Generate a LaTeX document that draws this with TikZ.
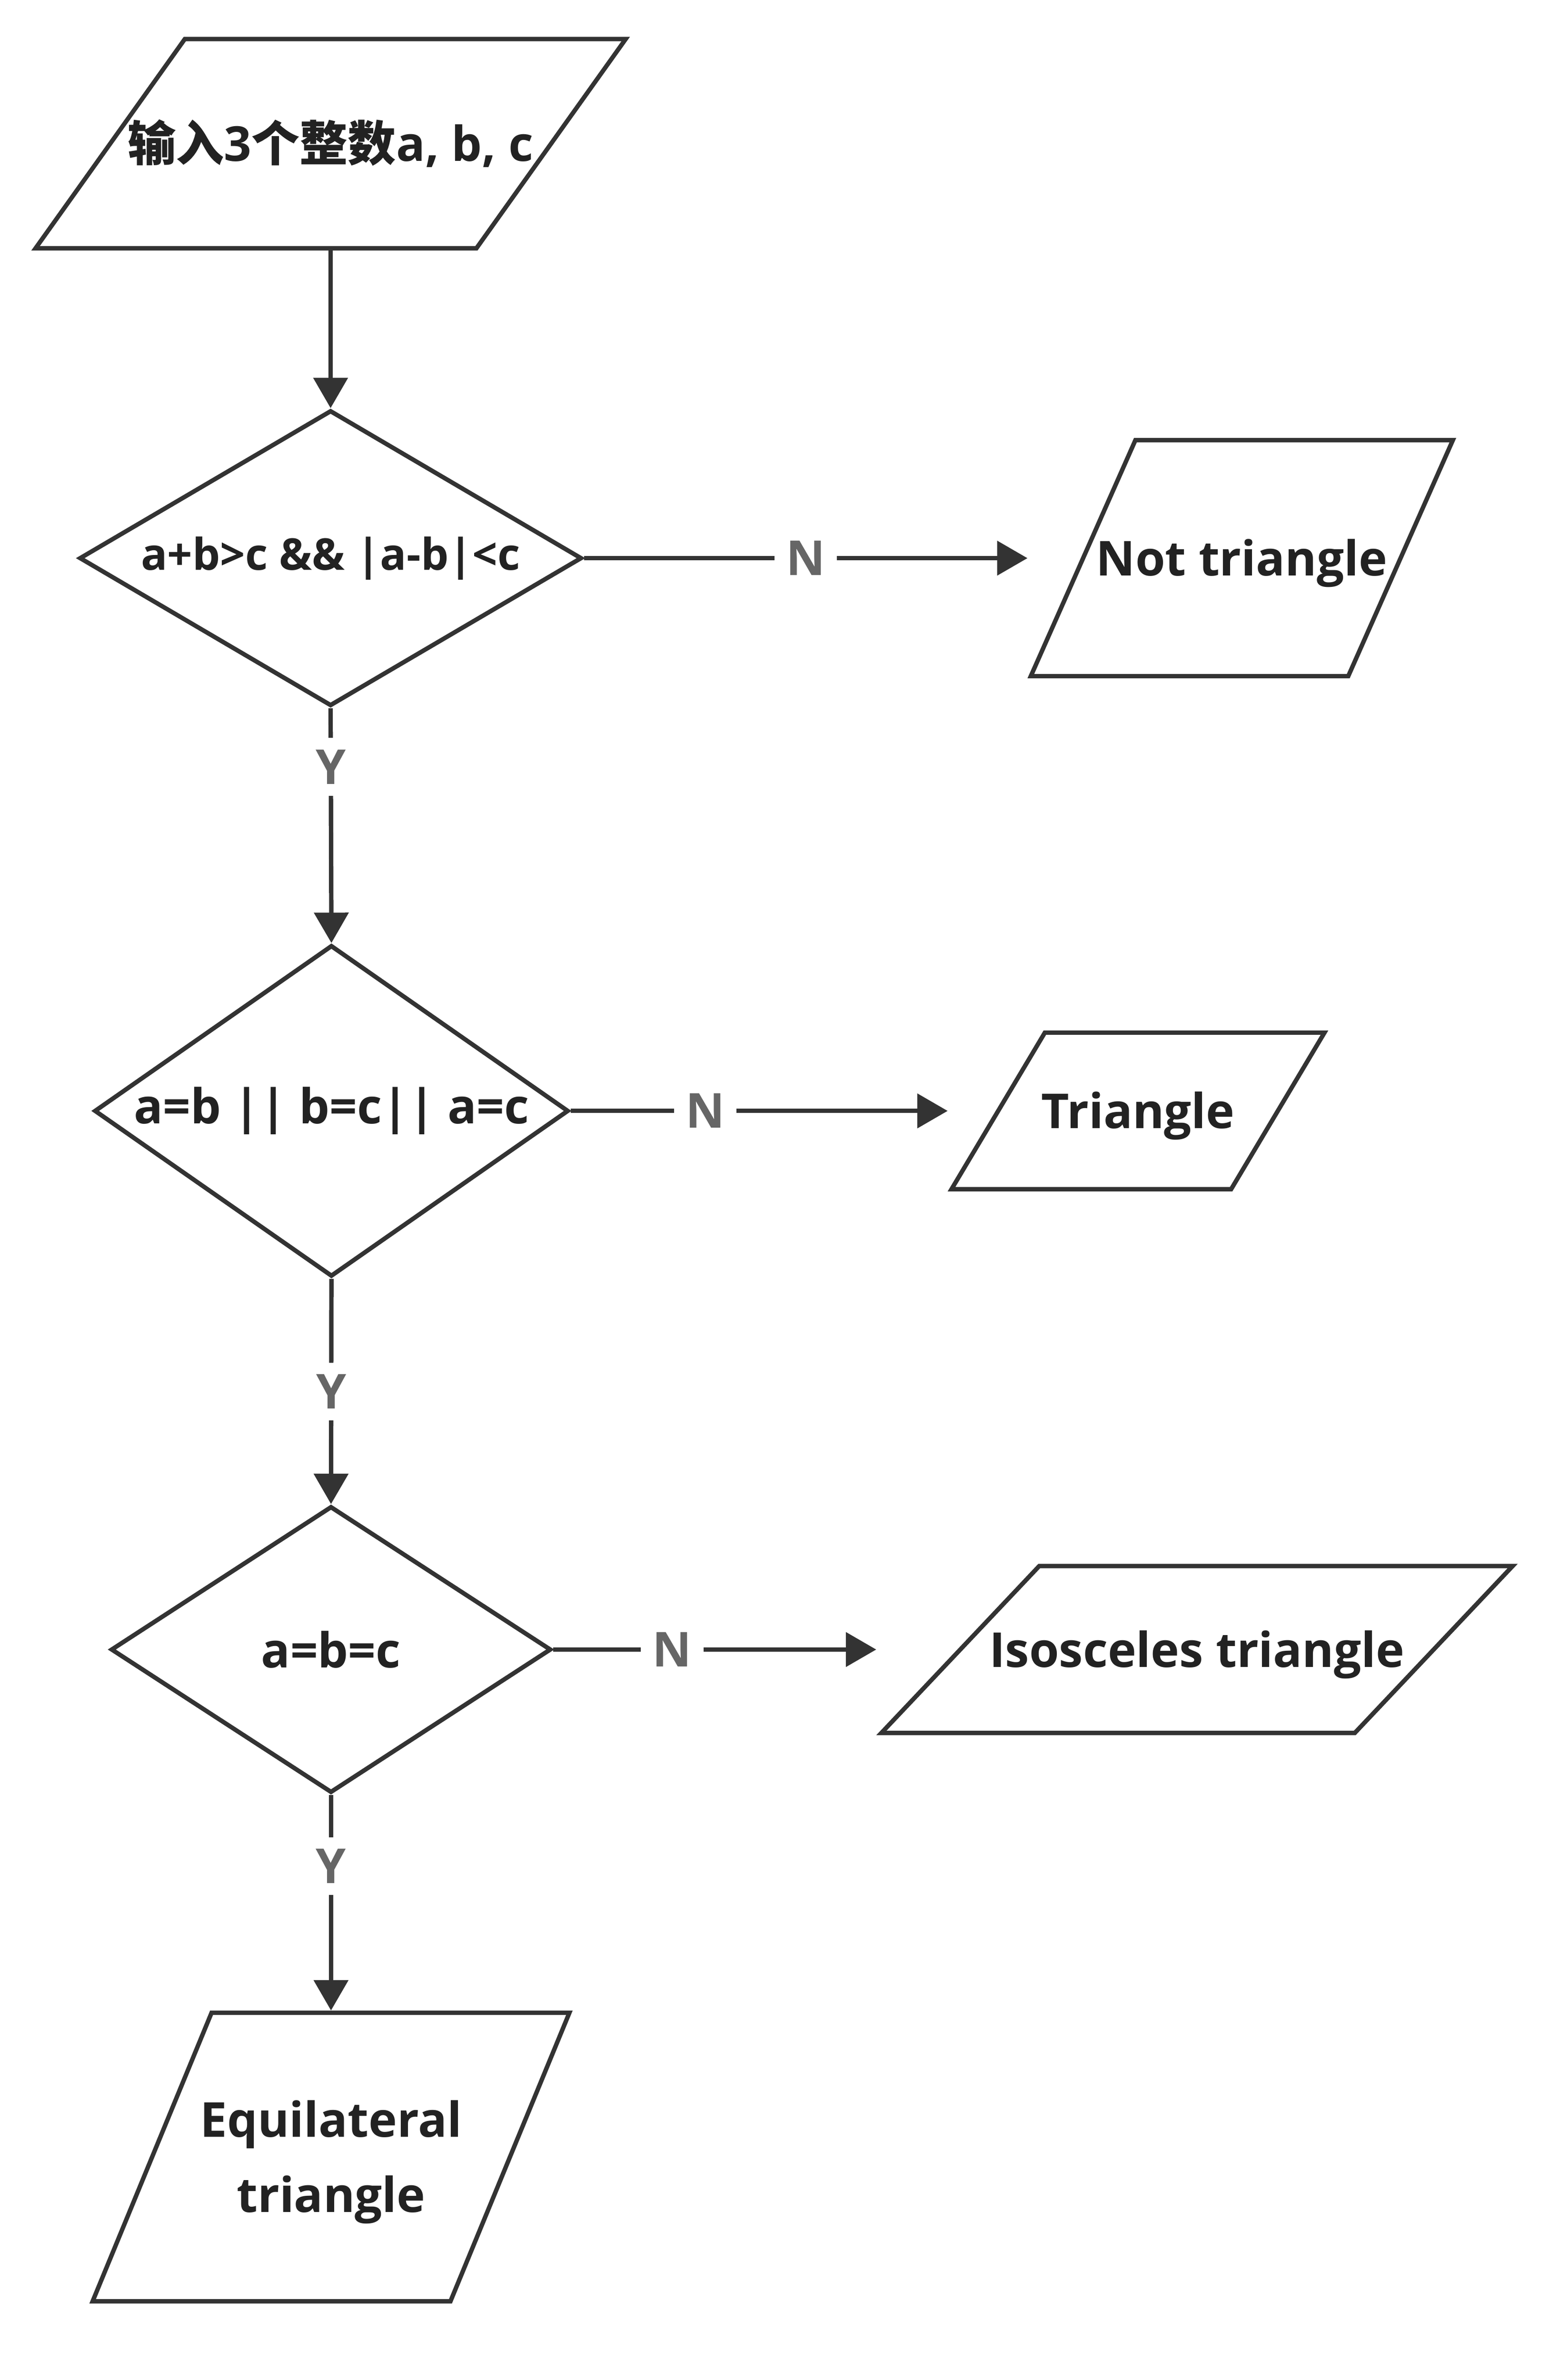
\documentclass[tikz,border=0pt]{standalone}
\usepackage{fontspec}
\setmainfont{Open Sans}
\newfontfamily\cjk{Noto Sans CJK SC}
\usetikzlibrary{shapes.geometric,arrows.meta,positioning}
\definecolor{linegray}{HTML}{333333}
\definecolor{textgray}{HTML}{222222}
\definecolor{labelgray}{HTML}{666666}
\tikzset{>={Triangle[length=10.4pt,width=11.6pt]}}

\begin{document}
\begin{tikzpicture}[every node/.style={font=\bfseries\fontsize{16.5}{25.7}\selectfont,text=textgray},
  io/.style={draw=linegray,line width=1.5pt,trapezium,trapezium stretches body,inner xsep=0pt,
    trapezium left angle=#1,trapezium right angle=180-#1},
  iotext/.style={text height=0.42cm,text depth=0pt,align=center},
  decision/.style={draw=linegray,line width=1.5pt,diamond,inner sep=0pt},
  yn/.style={fill=white,text=labelgray,inner sep=4pt},
  flow/.style={draw=linegray,line width=1.5pt,->}]
\useasboundingbox (0,0) rectangle (18.78,-28.655);
% input / output boxes
\node[io=54.5,minimum width=7.105cm,inner ysep=1.26cm] (input) at (3.98,-1.73) {};
\node[iotext] (inputtext) at (input) {{\cjk 输入}3{\cjk 个整数}a, b, c};
\node[io=66.1,minimum width=5.08cm,inner ysep=1.42cm] (nottri) at (14.95,-6.72) {};
\node[iotext] (nottritext) at (nottri) {Not triangle};
\node[io=59.2,minimum width=4.49cm,inner ysep=0.9425cm] (tri) at (13.7,-13.375) {};
\node[iotext] (tritext) at (tri) {Triangle};
\node[io=46.6,minimum width=7.6cm,inner ysep=1.005cm] (iso) at (14.41,-19.86) {};
\node[iotext] (isotext) at (iso) {Isosceles triangle};
\node[io=67.6,minimum width=5.74cm,inner ysep=1.7375cm] (equi) at (3.985,-25.97) {};
\node[iotext,text height=1.325cm] (equitext) at (equi) {Equilateral\\triangle};
% decisions
\node[decision,shape aspect=1.7,minimum width=6.05cm,minimum height=3.56cm,font=\bfseries\fontsize{15}{18}\selectfont] (d1) at (3.98,-6.72) {a+b>c \&\& |a-b|<c};
\node[decision,shape aspect=1.43,minimum width=5.71cm,minimum height=3.99cm] (d2) at (3.99,-13.375) {a=b || b=c|| a=c};
\node[decision,shape aspect=1.54,minimum width=5.3cm,minimum height=3.45cm] (d3) at (3.985,-19.86) {a=b=c};

\draw[flow] (input.south) -- (d1.north);
\draw[flow] (d1.east) -- node[yn]{N} (d1.east -| nottri.bottom left corner);
\draw[flow] (d1.south) -- node[yn,pos=0.25]{Y} (d2.north);
\draw[flow] (d2.east) -- node[yn,pos=0.357]{N} (d2.east -| tri.bottom left corner);
\draw[flow] (d2.south) -- node[yn]{Y} (d3.north);
\draw[flow] (d3.east) -- node[yn,pos=0.368]{N} (d3.east -| iso.bottom left corner);
\draw[flow] (d3.south) -- node[yn,pos=0.33]{Y} (equi.north);
\end{tikzpicture}
\end{document}
